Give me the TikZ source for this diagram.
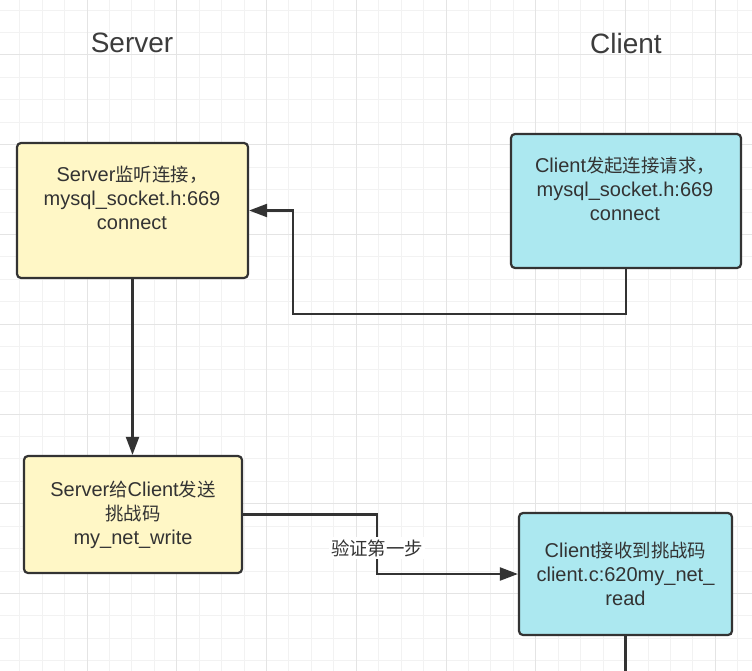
\documentclass[tikz,border=0pt]{standalone}
\usepackage{fontspec}
\setmainfont{Liberation Sans}
\newfontfamily\cjk{Noto Sans CJK SC}[Scale=0.92]
\usetikzlibrary{arrows.meta}
\definecolor{minorgrid}{HTML}{F2F2F2}
\definecolor{majorgrid}{HTML}{E4E4E4}
\definecolor{serverfill}{HTML}{FFF7C6}
\definecolor{clientfill}{HTML}{ACE8F0}
\definecolor{ink}{HTML}{333333}
\definecolor{titleink}{HTML}{3C3C3C}
\tikzset{
  minorline/.style={draw=minorgrid, line width=1pt},
  majorline/.style={draw=majorgrid, line width=1pt},
  boxshape/.style={draw=ink, line width=2.2pt, rounded corners=4pt, inner sep=0pt},
  serverbox/.style={boxshape, fill=serverfill},
  clientbox/.style={boxshape, fill=clientfill},
  boxtext/.style={text=ink, align=center, inner sep=0pt, font=\fontsize{20}{24}\selectfont},
  titletext/.style={text=titleink, anchor=base, inner sep=0pt, font=\fontsize{28}{32}\selectfont},
  conn/.style={draw=ink, line width=2.2pt},
  arrowconn/.style={conn, -{Triangle[length=18pt,width=13pt]}},
  edgelabel/.style={text=ink, fill=white, inner sep=2pt, font=\fontsize{20}{24}\selectfont}
}
\begin{document}
\begin{tikzpicture}[x=1pt,y=-1pt]
\useasboundingbox (0,0) rectangle (752,671);
\fill[white] (0,0) rectangle (752,671);
% grid
\foreach \i in {0,...,33} {
  \draw[minorline] ({19.7+22.44*\i},0) -- ({19.7+22.44*\i},671);
}
\foreach \i in {0,...,29} {
  \draw[minorline] (0,{10.1+22.44*\i}) -- (752,{10.1+22.44*\i});
}
\foreach \i in {0,...,8} {
  \draw[majorline] ({87+89.76*\i},0) -- ({87+89.76*\i},671);
}
\foreach \i in {0,...,7} {
  \draw[majorline] (0,{55+89.76*\i}) -- (752,{55+89.76*\i});
}
% titles
\node[titletext] (tserver) at (132,53) {Server};
\node[titletext] (tclient) at (626,54) {Client};
% boxes
\node[serverbox, minimum width=231pt, minimum height=135pt] (s1) at (132.5,210.5) {};
\node[clientbox, minimum width=230pt, minimum height=134pt] (c1) at (626,201) {};
\node[serverbox, minimum width=218pt, minimum height=117pt] (s2) at (133,514.5) {};
\node[clientbox, minimum width=213pt, minimum height=122pt] (c2) at (625.5,574) {};
% box texts
\node[boxtext] (s1t) at (132,198) {Server{\cjk 监听连接，}\\mysql\_socket.h:669\\connect};
\node[boxtext] (c1t) at (625,189) {Client{\cjk 发起连接请求，}\\mysql\_socket.h:669\\connect};
\node[boxtext] (s2t) at (133,515) {Server{\cjk 给}Client{\cjk 发送}\\{\cjk 挑战码}\\my\_net\_write};
\node[boxtext] (c2t) at (625.5,574) {Client{\cjk 接收到挑战码}\\client.c:620my\_net\_\\read};
% connectors
\coordinate (k1) at (293,314);
\draw[arrowconn] (c1.south) |- (k1) |- (s1.east);
\draw[arrowconn] (s1.south) -- (s1.south |- s2.north);
\coordinate (k2) at (377,545);
\draw[arrowconn] (s2.east) -| (k2) |- (c2.west);
\node[edgelabel] (lbl) at (377,548) {\cjk 验证第一步};
\coordinate (c2end) at (626,671);
\draw[conn] (c2.south) -- (c2.south |- c2end);
\end{tikzpicture}
\end{document}
